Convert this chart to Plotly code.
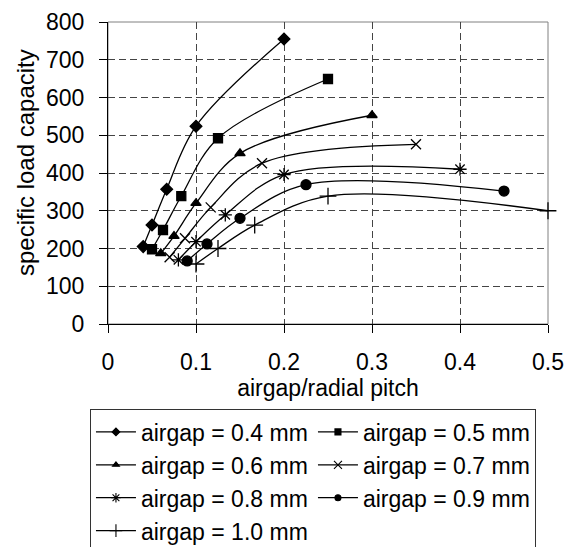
import plotly.graph_objects as go

# ---- data ----
series_names = ["airgap = 0.4 mm", "airgap = 0.5 mm", "airgap = 0.6 mm", "airgap = 0.7 mm",
                "airgap = 0.8 mm", "airgap = 0.9 mm", "airgap = 1.0 mm"]
x_04 = [0.04, 0.05, 0.0667, 0.1, 0.2]
y_04 = [205, 262, 357, 524, 755]
x_05 = [0.05, 0.0625, 0.0833, 0.125, 0.25]
y_05 = [198, 249, 339, 492, 649]
x_06 = [0.06, 0.075, 0.1, 0.15, 0.3]
y_06 = [187, 233, 320, 452, 553]
x_07 = [0.07, 0.0875, 0.1167, 0.175, 0.35]
y_07 = [177, 227, 309, 426, 476]
x_08 = [0.08, 0.1, 0.1333, 0.2, 0.4]
y_08 = [170, 218, 289, 396, 410]
x_09 = [0.09, 0.1125, 0.15, 0.225, 0.45]
y_09 = [167, 212, 280, 369, 352]
x_10 = [0.1, 0.125, 0.1667, 0.25, 0.5]
y_10 = [159, 200, 262, 339, 300]

xs = [x_04, x_05, x_06, x_07, x_08, x_09, x_10]
ys = [y_04, y_05, y_06, y_07, y_08, y_09, y_10]

symbols = ["diamond", "square", "triangle-up", "x-thin-open", "asterisk-open", "circle", "cross-thin-open"]
sizes = [9, 9, 9, 10, 11, 10, 12]
legend_sizes = [6, 6, 6, 8, 8, 6, 9]

FONT = "Liberation Sans, Arial, sans-serif"
FS = 23

fig = go.Figure()
for name, x, y, sym, sz in zip(series_names, xs, ys, symbols, sizes):
    fig.add_trace(go.Scatter(
        x=x, y=y, name=name, mode="lines+markers", showlegend=False, cliponaxis=False,
        line=dict(color="black", width=1.3, shape="spline", smoothing=1.0),
        marker=dict(symbol=sym, size=sz, color="black",
                    line=dict(color="black", width=1.3)),
    ))
# legend entries (smaller symbols, as in the reference legend)
for name, sym, sz in zip(series_names, symbols, legend_sizes):
    fig.add_trace(go.Scatter(
        x=[None], y=[None], name=name, mode="lines+markers", showlegend=True,
        line=dict(color="black", width=1.3),
        marker=dict(symbol=sym, size=sz, color="black",
                    line=dict(color="black", width=1.1)),
    ))

fig.update_layout(
    width=569, height=547,
    margin=dict(l=108, r=21, t=22, b=223, autoexpand=False),
    paper_bgcolor="white", plot_bgcolor="white",
    font=dict(family=FONT, size=FS, color="black"),
    showlegend=True,
    legend=dict(
        orientation="h", x=-0.041, y=-0.283, xanchor="left", yanchor="top",
        bgcolor="white", bordercolor="#333333", borderwidth=1,
        font=dict(family=FONT, size=FS, color="black"),
        itemwidth=40, entrywidth=167, entrywidthmode="pixels",
        itemsizing="trace", tracegroupgap=0,
    ),
    xaxis=dict(
        range=[0, 0.5], dtick=0.1, tick0=0,
        showgrid=True, gridcolor="#444444", griddash="7px,4px", gridwidth=1,
        zeroline=False, showline=True, linecolor="black", linewidth=1.3,
        ticks="outside", ticklen=8, tickcolor="black", tickwidth=1,
        ticklabelstandoff=9,
        title=dict(text="airgap/radial pitch", standoff=5, font=dict(size=FS)),
        automargin=False,
    ),
    yaxis=dict(
        range=[0, 800], dtick=100, tick0=0,
        showgrid=True, gridcolor="#444444", griddash="7px,4px", gridwidth=1,
        zeroline=False, showline=True, linecolor="black", linewidth=1.3,
        ticks="outside", ticklen=8, tickcolor="black", tickwidth=1,
        ticklabelstandoff=10,
        automargin=False,
    ),
    annotations=[dict(
        text="specific load capacity", textangle=-90, showarrow=False,
        xref="paper", yref="paper", x=-0.1886, y=0.533,
        xanchor="center", yanchor="middle", font=dict(family=FONT, size=24, color="black"),
    )],
    shapes=[dict(type="rect", xref="x domain", yref="y domain", x0=0, x1=1, y0=0, y1=1,
                 line=dict(color="#808080", width=1), layer="below")],
)

fig.write_html("out.html")
